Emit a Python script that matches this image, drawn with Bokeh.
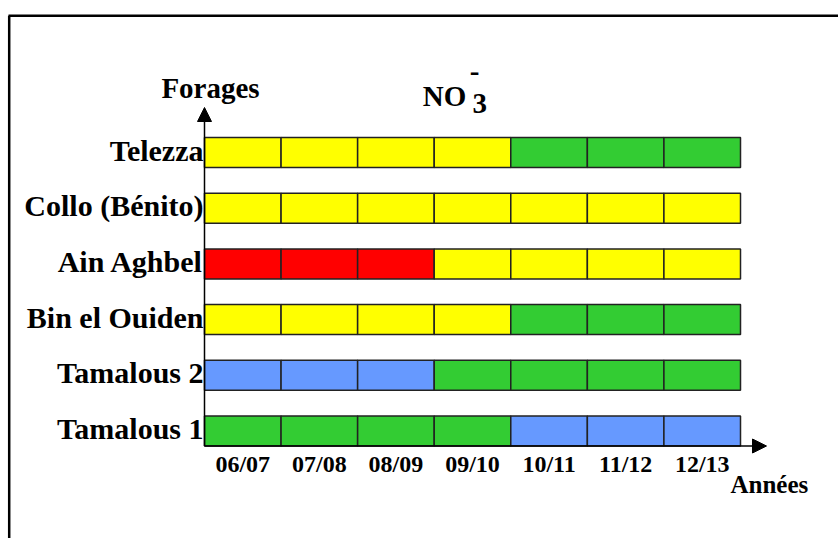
from bokeh.plotting import figure
from bokeh.models import ColumnDataSource, Range1d, Arrow, NormalHead
from bokeh.core.properties import value
from bokeh.embed import file_html
from bokeh.resources import INLINE

# ---------------- data ----------------
years = ["06/07", "07/08", "08/09", "09/10", "10/11", "11/12", "12/13"]
forages = ["Telezza", "Collo (Bénito)", "Ain Aghbel", "Bin el Ouiden", "Tamalous 2", "Tamalous 1"]

telezza = ["jaune", "jaune", "jaune", "jaune", "vert", "vert", "vert"]
collo = ["jaune", "jaune", "jaune", "jaune", "jaune", "jaune", "jaune"]
ain_aghbel = ["rouge", "rouge", "rouge", "jaune", "jaune", "jaune", "jaune"]
bin_el_ouiden = ["jaune", "jaune", "jaune", "jaune", "vert", "vert", "vert"]
tamalous_2 = ["bleu", "bleu", "bleu", "vert", "vert", "vert", "vert"]
tamalous_1 = ["vert", "vert", "vert", "vert", "bleu", "bleu", "bleu"]

classes = [telezza, collo, ain_aghbel, bin_el_ouiden, tamalous_2, tamalous_1]
class_colors = {"jaune": "#FFFF00", "vert": "#33CC33", "rouge": "#FF0000", "bleu": "#6699FF"}

# ---------------- layout (pixel geometry of the page) ----------------
W, H = 838, 538
X0 = 204.0                       # left edge of the grid
COL = (740.0 - 204.0) / len(years)
YB = 430.5                       # centre of the bottom row
ROW = 55.7


def dx(px):
    return (px - X0) / COL


def dy(py):
    return (YB - py) / ROW


p = figure(width=W, height=H, x_range=Range1d(dx(0), dx(W)),
           y_range=Range1d(dy(H), dy(0)), x_axis_type=None, y_axis_type=None,
           toolbar_location=None, output_backend="svg", min_border=0)
p.grid.visible = False
p.outline_line_color = None
p.background_fill_color = "white"
p.border_fill_color = "white"

n = len(forages)
bx, by, bc = [], [], []
for r, row in enumerate(classes):
    for i, c in enumerate(row):
        bx.append(i + 0.5)
        by.append(n - 1 - r)
        bc.append(class_colors[c])
src = ColumnDataSource(dict(x=bx, y=by, color=bc))
bar_h = 30.0 / ROW
p.rect(x="x", y="y", width=1, height=bar_h, fill_color="color", line_color="#222222",
       line_width=1.5, source=src)

# axes with arrows
ybase = -bar_h / 2
p.add_layout(Arrow(end=NormalHead(size=14, fill_color="black", line_color="black", line_width=1),
                   x_start=0, y_start=ybase, x_end=0, y_end=dy(107),
                   line_width=1.5, line_color="black"))
p.add_layout(Arrow(end=NormalHead(size=14, fill_color="black", line_color="black", line_width=1),
                   x_start=0, y_start=ybase, x_end=dx(766), y_end=ybase,
                   line_width=1.5, line_color="black"))

FONT = value("Liberation Serif")

# row labels
lab_src = ColumnDataSource(dict(x=[dx(203)] * n, y=[n - 1 - r + 2.5 / ROW for r in range(n)],
                                text=forages))
p.text(x="x", y="y", text="text", source=lab_src, text_font=FONT, text_font_style="bold",
       text_font_size=value("30px"), text_align="right", text_baseline="middle",
       text_color="black")

# year labels
yr_src = ColumnDataSource(dict(x=[i + 0.5 for i in range(len(years))],
                               y=[dy(463)] * len(years), text=years))
p.text(x="x", y="y", text="text", source=yr_src, text_font=FONT, text_font_style="bold",
       text_font_size=value("24px"), text_align="center", text_baseline="middle",
       text_color="black")

# titles
p.text(x=[dx(210)], y=[dy(87)], text=["Forages"], text_font=FONT, text_font_style="bold",
       text_font_size=value("29px"), text_align="center", text_baseline="middle")
p.text(x=[dx(444)], y=[dy(95.5)], text=["NO"], text_font=FONT, text_font_style="bold",
       text_font_size=value("29px"), text_align="center", text_baseline="middle")
p.text(x=[dx(472)], y=[dy(103.2)], text=["3"], text_font=FONT, text_font_style="bold",
       text_font_size=value("29px"), text_align="left", text_baseline="middle")
p.text(x=[dx(474)], y=[dy(71)], text=["-"], text_font=FONT, text_font_style="bold",
       text_font_size=value("29px"), text_align="center", text_baseline="middle")
p.text(x=[dx(730)], y=[dy(483.6)], text=["Années"], text_font=FONT, text_font_style="bold",
       text_font_size=value("25px"), text_align="left", text_baseline="middle")

# picture frame (top and left edges)
p.segment(x0=[dx(8), dx(8.7)], y0=[dy(15.3), dy(15.3)], x1=[dx(W), dx(8.7)],
          y1=[dy(15.3), dy(H)], line_color="black", line_width=2.5)

open("out.html", "w").write(file_html(p, INLINE))
